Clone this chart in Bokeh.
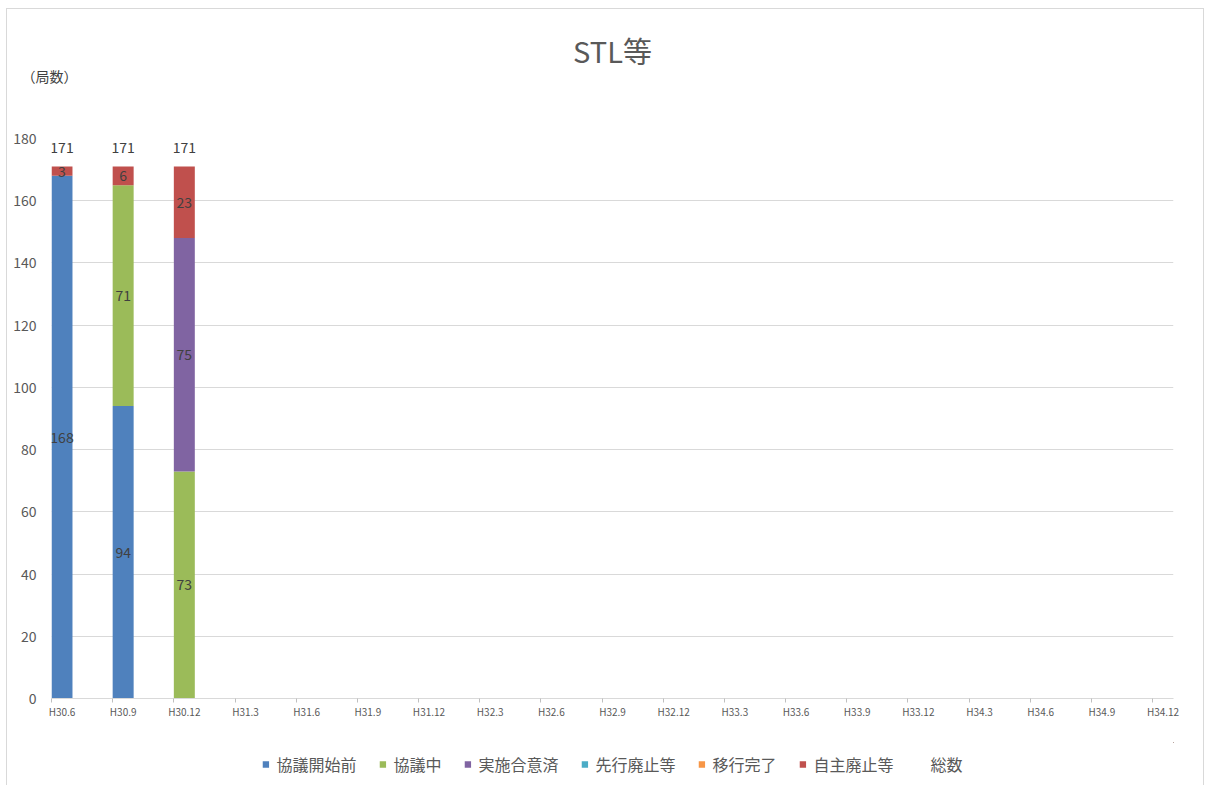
from bokeh.plotting import figure
from bokeh.layouts import column
from bokeh.models import (ColumnDataSource, FixedTicker, Legend, LegendItem, Title)
from bokeh.core.properties import value
from bokeh.embed import file_html
from bokeh.resources import INLINE

categories = ["H30.6", "H30.9", "H30.12", "H31.3", "H31.6", "H31.9", "H31.12",
              "H32.3", "H32.6", "H32.9", "H32.12", "H33.3", "H33.6", "H33.9",
              "H33.12", "H34.3", "H34.6", "H34.9", "H34.12"]
series_names = ["協議開始前", "協議中", "実施合意済", "先行廃止等", "移行完了", "自主廃止等"]
s_before = [168, 94, 0]
s_during = [0, 71, 73]
s_agreed = [0, 0, 75]
s_prior = [0, 0, 0]
s_moved = [0, 0, 0]
s_self = [3, 6, 23]
totals = [171, 171, 171]
total_name = "総数"
colors = ["#4F81BD", "#9BBB59", "#8064A2", "#4BACC6", "#F79646", "#C0504D"]
y_ticks = [0, 20, 40, 60, 80, 100, 120, 140, 160, 180]

series = [s_before, s_during, s_agreed, s_prior, s_moved, s_self]
n_data = len(totals)
BAR_W = 0.343
JP = "Noto Sans CJK JP"
GRAY = "#595959"

p = figure(frame_width=1122, frame_height=560, output_backend="svg", toolbar_location=None,
           x_range=(-BAR_W / 2, len(categories) - 1 + BAR_W / 2), y_range=(0, 180),
           min_border_left=44, min_border_right=30, min_border_top=129, min_border_bottom=44)
p.title = None
p.outline_line_color = None
p.xgrid.visible = False
p.ygrid.grid_line_color = "#D9D9D9"
p.ygrid.grid_line_width = 1

src = {"x": list(range(n_data)), "total": totals}
keys = []
for i, s in enumerate(series):
    k = "s%d" % i
    src[k] = s
    keys.append(k)
source = ColumnDataSource(src)
p.vbar_stack(keys, x="x", width=BAR_W, color=colors, source=source, line_color=None)

# segment labels
lx, ly, lt = [], [], []
for j in range(n_data):
    base = 0
    for s in series:
        v = s[j]
        if v > 0:
            lx.append(j)
            ly.append(base + v / 2)
            lt.append(str(v))
        base += v
p.text(x=lx, y=ly, text=lt, text_align="center", text_baseline="middle",
       text_font=value(JP), text_font_size="14px", text_color="#404040")

# total labels
p.text(x=list(range(n_data)), y=totals, text=[str(t) for t in totals],
       text_align="center", text_baseline="bottom", y_offset=-14,
       text_font=value(JP), text_font_size="14px", text_color="#404040")

# axes
p.xaxis.ticker = FixedTicker(ticks=list(range(len(categories))),
                             minor_ticks=[i - BAR_W / 2 for i in range(len(categories))])
p.xaxis.major_label_overrides = {i: c for i, c in enumerate(categories)}
p.xaxis.major_tick_line_color = None
p.xaxis.major_tick_out = 0
p.xaxis.major_tick_in = 0
p.xaxis.minor_tick_line_color = "#BFBFBF"
p.xaxis.minor_tick_out = 4
p.xaxis.minor_tick_in = 0
p.xaxis.axis_line_color = "#D9D9D9"
p.xaxis.major_label_text_font = JP
p.xaxis.major_label_text_font_size = "10px"
p.xaxis.major_label_text_color = GRAY
p.xaxis.major_label_standoff = 1

p.yaxis.ticker = FixedTicker(ticks=y_ticks)
p.yaxis.axis_line_color = None
p.yaxis.major_tick_line_color = None
p.yaxis.major_tick_out = 0
p.yaxis.minor_tick_line_color = None
p.yaxis.major_label_text_font = JP
p.yaxis.major_label_text_font_size = "14px"
p.yaxis.major_label_text_color = GRAY
p.yaxis.major_label_standoff = 15

# titles
p.add_layout(Title(text=" ", text_font_size="1px", standoff=50), "above")
p.add_layout(Title(text="（局数）", align="left", offset=-30, standoff=0,
                   text_font=JP, text_font_size="14px", text_font_style="normal",
                   text_color="#404040"), "above")
p.add_layout(Title(text="STL等", align="center", standoff=-14,
                   text_font=JP, text_font_size="29px", text_font_style="normal",
                   text_color=GRAY), "above")

# legend strip (same series placed out of view, only their legend swatches show)
lg = figure(width=1196, height=44, output_backend="svg", toolbar_location=None,
            x_range=(-30, -29), y_range=(-30, -29), min_border=0)
lg.axis.visible = False
lg.grid.visible = False
lg.outline_line_color = None
lrs = lg.vbar_stack(keys, x="x", width=BAR_W, color=colors, source=source, line_color=None)
tr = lg.scatter(x="x", y="total", source=source, size=1, alpha=0)
items = [LegendItem(label=n, renderers=[r]) for n, r in zip(series_names, lrs)]
items.append(LegendItem(label=total_name, renderers=[tr]))
legend = Legend(items=items, orientation="horizontal", location="center",
                label_text_font=JP, label_text_font_size="16px", label_text_color=GRAY,
                glyph_width=8, glyph_height=8, spacing=22, label_standoff=7,
                margin=0, padding=0, border_line_color=None, background_fill_alpha=0)
lg.add_layout(legend, "center")

layout = column(p, lg, spacing=0,
                styles={"border": "1px solid #D9D9D9", "margin-left": "6px", "margin-top": "8px"})
open("out.html", "w").write(file_html(layout, INLINE))
